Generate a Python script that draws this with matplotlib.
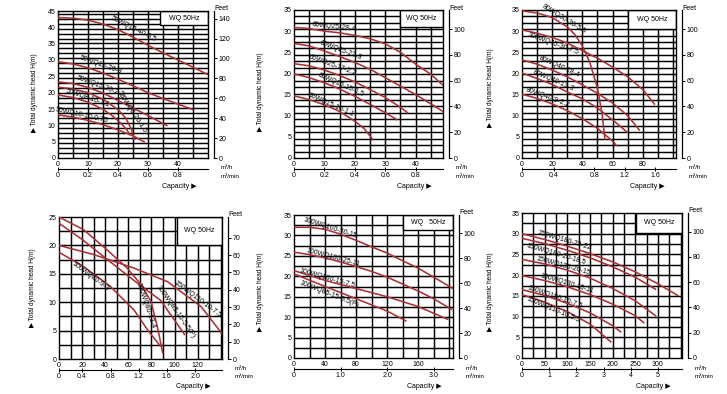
import matplotlib
matplotlib.use("Agg")
import matplotlib.pyplot as plt
import numpy as np
from matplotlib.patches import Rectangle

plt.rcParams['font.family'] = ['Liberation Sans', 'DejaVu Sans']

FT = 0.3048
W, H = 727, 394

# ---------------- data ----------------
# Panel 1
p1_models = ["50WQ15-40-5.5", "50WQ15-26-3", "50WQ15-20-2.2", "50WQ8-20-1.5", "50WQ8-16-1.1", "50WQ10-10-0.75"]
p1_q = [[0, 5, 10, 15, 20, 25, 30, 35, 40, 45, 50],
        [0, 5, 10, 15, 20, 25, 30, 35, 40, 45],
        [0, 5, 10, 15, 20, 25, 30, 36.5],
        [0, 5, 10, 15, 20, 22.5, 24.5, 25.5],
        [0, 5, 10, 15, 18, 21, 23, 24],
        [0, 5, 10, 15, 20, 25, 29]]
p1_h = [[43, 42.8, 42.2, 41, 39.3, 37, 34.5, 32.2, 30, 27.8, 25.5],
        [29.5, 28.8, 27.6, 26, 24.1, 22.1, 20, 18.2, 16.5, 14.8],
        [23.3, 22.8, 21.6, 19.9, 17.6, 15.3, 13, 9.8],
        [21.7, 21.1, 20, 18, 14.8, 12.3, 8.8, 5.4],
        [19.3, 18.5, 17.1, 14.9, 13, 10.6, 8.6, 7.0],
        [13.2, 12.5, 11.5, 10.2, 8.6, 6.8, 4.8]]
p1_xticks = [0, 10, 20, 30, 40]
p1_yticks = [0, 5, 10, 15, 20, 25, 30, 35, 40, 45]
p1_ftticks = [0, 20, 40, 60, 80, 100, 120, 140]
p1_min_labels = ["0", "0.2", "0.4", "0.6", "0.8"]
p1_min_at = [0, 10, 20, 30, 40]

# Panel 2
p2_models = ["65WQ25-28-4", "65WQ25-22-3", "65WQ25-17-2.2", "65WQ15-15-1.5", "65WQ15-10-1.1"]
p2_q = [[0, 5, 10, 15, 20, 25, 30, 35, 40, 45, 49],
        [0, 5, 10, 15, 20, 25, 30, 35, 40, 45, 49],
        [0, 5, 10, 15, 20, 25, 30, 35, 37.5],
        [0, 5, 10, 15, 20, 25, 30, 34],
        [0, 5, 10, 15, 20, 23, 26]]
p2_h = [[30.9, 30.6, 30, 29.6, 29, 28.2, 27, 25, 22.2, 19.8, 17.2],
        [27.1, 26.5, 25.3, 24, 22.6, 21, 19, 17, 15, 12.8, 11],
        [22.3, 21.8, 20.8, 19.5, 18, 16.2, 14.3, 12, 10.6],
        [19.9, 19, 17.8, 16.3, 14.6, 12.7, 10.7, 9],
        [14.7, 13.8, 12.6, 11, 8.7, 7, 4.3]]
p2_xticks = [0, 10, 20, 30, 40]
p2_yticks = [0, 5, 10, 15, 20, 25, 30, 35]
p2_ftticks = [0, 20, 40, 60, 80, 100]
p2_min_labels = ["0", "0.2", "0.4", "0.6", "0.8"]
p2_min_at = [0, 10, 20, 30, 40]

# Panel 3
p3_models = ["80WQ30-30-5.5", "100WQ45-30-7.5", "80WQ40-18-4", "80WQ40-13-3", "80WQ40-9-2.2"]
p3_q = [[0, 10, 20, 30, 35, 40, 45, 50, 53, 55],
        [0, 10, 20, 30, 40, 50, 60, 70, 80, 88],
        [0, 10, 20, 30, 40, 50, 60, 70, 78],
        [0, 10, 20, 30, 40, 50, 60, 70],
        [0, 10, 20, 30, 40, 50, 60, 63]]
p3_h = [[34.8, 34.3, 33.2, 31, 29.2, 26.5, 22.5, 16.5, 10.5, 4.3],
        [30.3, 29.5, 28.5, 27.2, 25.4, 23.6, 21.5, 19.2, 16.2, 12.6],
        [23.2, 22.2, 20.8, 19.2, 17.3, 15.3, 13, 10, 6.5],
        [20.1, 18.8, 17.4, 15.6, 14, 11.8, 9, 6],
        [15.1, 14.1, 12.8, 11.2, 9.3, 7, 4, 2.8]]
p3_xticks = [0, 20, 40, 60, 80]
p3_yticks = [0, 5, 10, 15, 20, 25, 30, 35]
p3_ftticks = [0, 20, 40, 60, 80, 100]
p3_min_labels = ["0", "0.4", "0.8", "1.2", "1.6"]
p3_min_at = [0, 21, 48, 68, 88]

# Panel 4
p4_models = ["100WQ80-13-4", "100WQ85-15-5.5(P)", "150WQ110-10-7.5", "100WQ80-9-3"]
p4_q = [[0, 21, 40, 59, 71, 79.6, 85.4, 89.8],
        [0, 21, 40, 65, 88, 109],
        [0, 29.7, 65, 94, 123, 142],
        [0, 21, 44.3, 65, 76.7, 88]]
p4_h = [[25, 22.8, 19.5, 16, 13.1, 10.1, 5.4, 1.0],
        [23.9, 20.9, 17.8, 13.8, 10.3, 4.2],
        [20, 18.4, 16, 13.6, 9.2, 4.2],
        [18.8, 16.3, 12.8, 8.6, 5.1, 2.2]]
p4_xticks = [0, 20, 40, 60, 80, 100, 120]
p4_yticks = [0, 5, 10, 15, 20, 25]
p4_ftticks = [0, 10, 20, 30, 40, 50, 60, 70]
p4_min_labels = ["0", "0.4", "0.8", "1.2", "1.6", "2.0"]
p4_min_at = [0, 20, 45, 69, 93, 118]

# Panel 5
p5_models = ["100WQ100-30-15", "100WQ100-25-11", "100WQ100-15-7.5", "100WQ85-15-5.5(P)"]
p5_q = [[0, 20, 40, 60, 80, 100, 120, 140, 160, 180, 205],
        [0, 20, 40, 60, 80, 100, 120, 140, 160, 180, 204],
        [0, 40, 80, 120, 160, 199],
        [0, 40, 80, 120, 145]]
p5_h = [[32, 32, 31.5, 30.3, 28.8, 27.2, 25.7, 23.8, 22, 19.8, 17],
        [25.9, 25.3, 24.5, 23.5, 22.4, 21.2, 19.8, 18.1, 16.4, 14.5, 11.8],
        [21.4, 19, 17, 15, 12.6, 9.4],
        [20.6, 17.5, 14.5, 11.5, 9]]
p5_xticks = [0, 40, 80, 120, 160]
p5_yticks = [0, 5, 10, 15, 20, 25, 30, 35]
p5_ftticks = [0, 20, 40, 60, 80, 100]
p5_min_labels = ["0", "1.0", "2.0", "3.0"]
p5_min_at = [0, 60, 120, 180]

# Panel 6
p6_models = ["150WQ180-25-22", "150WQ180-20-18.5", "150WQ130-20-15", "150WQ130-15-11", "150WQ150-10-7.5", "150WQ110-10-5.5"]
p6_q = [[0, 50, 100, 150, 200, 250, 300, 345],
        [0, 50, 100, 150, 200, 250, 296],
        [0, 50, 100, 150, 200, 250, 296],
        [0, 50, 100, 150, 200, 250, 270],
        [0, 50, 100, 150, 200, 219],
        [0, 50, 100, 150, 197]]
p6_h = [[30, 28.6, 27, 25.2, 23.2, 20.8, 17.9, 15],
        [28.9, 27.6, 26, 24.2, 22, 19.5, 16.5],
        [23.8, 22.7, 21.2, 19.3, 16.8, 13.8, 10.1],
        [19.9, 18.7, 17.2, 15.3, 13, 10.2, 8.4],
        [16.5, 15.1, 13.2, 10.9, 7.8, 6.2],
        [15.3, 13.5, 11.2, 8.2, 3.8]]
p6_xticks = [0, 50, 100, 150, 200, 250, 300]
p6_yticks = [0, 5, 10, 15, 20, 25, 30, 35]
p6_ftticks = [0, 20, 40, 60, 80, 100]
p6_min_labels = ["0", "1", "2", "3", "4", "5"]
p6_min_at = [0, 60, 120, 180, 240, 300]

# ---------------- layout (pixels) ----------------
PANELS = [
    dict(models=p1_models, q=p1_q, h=p1_h, xt=p1_xticks, yt=p1_yticks, ft=p1_ftticks,
         ml=p1_min_labels, ma=p1_min_at, box=(58, 11, 208, 158), xmax=50, ymax=45,
         vstep=5, hstep=5 * FT, wq=(34, 40.7), wqtext="WQ 50Hz", ylab=(35, 93),
         lab=[(24, 5), (13.5, 5), (13.5, 4), (22.5, 6), (9.4, 3), (7.7, 3)]),
    dict(models=p2_models, q=p2_q, h=p2_h, xt=p2_xticks, yt=p2_yticks, ft=p2_ftticks,
         ml=p2_min_labels, ma=p2_min_at, box=(294, 10, 443, 158), xmax=49, ymax=35,
         vstep=5, hstep=5 * FT, wq=(35, 31), wqtext="WQ 50Hz", ylab=(260, 92),
         lab=[(13, 4), (14.6, 4), (11.8, 5), (15, 3), (11.8, 2)]),
    dict(models=p3_models, q=p3_q, h=p3_h, xt=p3_xticks, yt=p3_yticks, ft=p3_ftticks,
         ml=p3_min_labels, ma=p3_min_at, box=(522, 10, 676, 158), xmax=102, ymax=35,
         vstep=10, hstep=5 * FT, wq=(70, 30.4), wqtext="WQ 50Hz", ylab=(490, 88),
         lab=[(26, 3), (21.8, -4), (23, 4), (19.6, 3), (16.2, 3)]),
    dict(models=p4_models, q=p4_q, h=p4_h, xt=p4_xticks, yt=p4_yticks, ft=p4_ftticks,
         ml=p4_min_labels, ma=p4_min_at, box=(59, 217, 222, 359), xmax=141, ymax=25,
         vstep=10, hstep=2.5, wq=(102, 20.1), wqtext="WQ 50Hz", ylab=(33, 288),
         lab=[(80, -5), (97, 4), (118, 3), (29, -3)]),
    dict(models=p5_models, q=p5_q, h=p5_h, xt=p5_xticks, yt=p5_yticks, ft=p5_ftticks,
         ml=p5_min_labels, ma=p5_min_at, box=(294, 215, 453, 358), xmax=205, ymax=35,
         vstep=20, hstep=2.5, wq=(140, 31.3), wqtext="WQ   50Hz", ylab=(260, 292),
         lab=[(46, 2), (50, 2), (41.7, 2), (48, -4)]),
    dict(models=p6_models, q=p6_q, h=p6_h, xt=p6_xticks, yt=p6_yticks, ft=p6_ftticks,
         ml=p6_min_labels, ma=p6_min_at, box=(522, 213, 682, 358), xmax=353, ymax=35,
         vstep=25, hstep=2.5, wq=(251, 30.2), wqtext="WQ 50Hz", ylab=(490, 292),
         lab=[(90, 3), (79, -5), (90, 2), (98, 2), (72, 1), (72, -3)]),
]

RED = "#a83238"
FS = 5

fig = plt.figure(figsize=(W / 100, H / 100), dpi=100)


def fx(x):
    return x / W


def fy(y):
    return 1 - y / H


for P in PANELS:
    x0, y0, x1, y1 = P["box"]
    ax = fig.add_axes([fx(x0), fy(y1), (x1 - x0) / W, (y1 - y0) / H])
    ax.set_xlim(0, P["xmax"])
    ax.set_ylim(0, P["ymax"])
    for s in ax.spines.values():
        s.set_linewidth(1.0)
    # grid
    v = P["vstep"]
    while v < P["xmax"] - 1e-6:
        ax.axvline(v, color="black", lw=1.05, zorder=1)
        v += P["vstep"]
    hh = P["hstep"]
    while hh < P["ymax"] - 1e-6:
        ax.axhline(hh, color="black", lw=1.05, zorder=1)
        hh += P["hstep"]
    # WQ box
    wx, wy = P["wq"]
    ax.add_patch(Rectangle((wx, wy), P["xmax"] - wx, P["ymax"] - wy, facecolor="white",
                           edgecolor="black", lw=1.0, zorder=2))
    ax.text((wx + P["xmax"]) / 2, (wy + P["ymax"]) / 2, P["wqtext"], ha="center", va="center",
            fontsize=FS, zorder=3)
    # ticks
    ax.set_xticks(P["xt"])
    ax.set_yticks(P["yt"])
    ax.tick_params(length=0, labelsize=FS, pad=2)
    # curves
    for name, q, h, (lq, off) in zip(P["models"], P["q"], P["h"], P["lab"]):
        ax.plot(q, h, color=RED, lw=1.15, zorder=4, solid_capstyle="butt")
        qa = np.array(q, float)
        ha_ = np.array(h, float)
        d = P["xmax"] * 0.02
        pA = ax.transData.transform((lq - d, np.interp(lq - d, qa, ha_)))
        pB = ax.transData.transform((lq + d, np.interp(lq + d, qa, ha_)))
        ang = np.degrees(np.arctan2(pB[1] - pA[1], pB[0] - pA[0]))
        t = np.radians(ang)
        ax.annotate(name, (lq, np.interp(lq, qa, ha_)),
                    xytext=(-np.sin(t) * off, np.cos(t) * off), textcoords="offset points",
                    rotation=ang, rotation_mode="anchor", ha="center", va="center",
                    fontsize=FS, zorder=5)
    # secondary capacity axis (m3/min)
    sec = ax.secondary_xaxis(-11.0 / (y1 - y0))
    sec.set_xticks(P["ma"], labels=P["ml"])
    sec.tick_params(direction="inout", length=3, width=0.7, labelsize=FS, pad=0.5)
    sec.spines["bottom"].set_linewidth(0.8)
    # feet axis
    ax2 = ax.twinx()
    ax2.set_ylim(0, P["ymax"] / FT)
    ax2.spines["right"].set_position(("outward", 4))
    ax2.spines["right"].set_linewidth(0.9)
    for s in ["left", "top", "bottom"]:
        ax2.spines[s].set_visible(False)
    ax2.set_yticks(P["ft"])
    ax2.tick_params(length=2, width=0.7, labelsize=FS, pad=1.5)
    # texts
    fig.text(fx(x1 + 6), fy(y0 - 2), "Feet", fontsize=FS, ha="left", va="center")
    fig.text(fx(x1 + 13), fy(y1 + 10), "m³/h", fontsize=FS - 0.5, ha="left", va="center")
    fig.text(fx(x1 + 13), fy(y1 + 18), "m³/min", fontsize=FS - 0.5, ha="left", va="center")
    fig.text(fx(x1 - 29), fy(y1 + 28), "Capacity ▶", fontsize=FS, ha="center", va="center")
    lx, ly = P["ylab"]
    fig.text(fx(lx), fy(ly), "▶ Total dynamic head H(m)", fontsize=FS - 0.3, rotation=90,
             ha="center", va="center")

fig.savefig("out.png", dpi=100)
